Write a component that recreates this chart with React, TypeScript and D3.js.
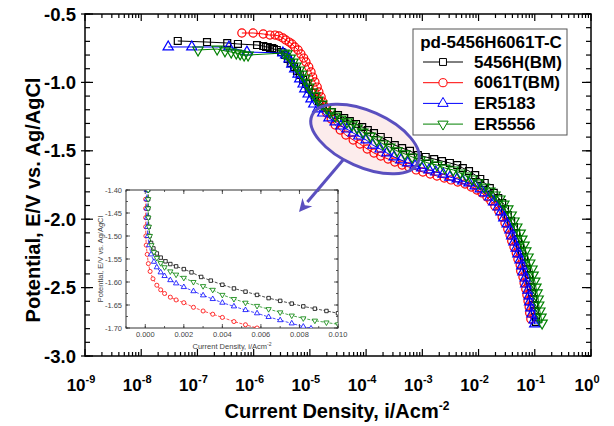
import React from "react";
import * as d3 from "d3";

// potentiodynamic polarization, main plot: [log10 current density (A/cm2), potential (V vs Ag/AgCl)]
const seriesNames = ["5456H(BM)", "6061T(BM)", "ER5183", "ER5556"];
const legendTitle = "pd-5456H6061T-C";

const bm5456H: [number, number][] = [
  [-7.35, -0.697], [-6.83, -0.705], [-6.47, -0.712], [-6.28, -0.719], [-5.94, -0.727], [-5.83, -0.734],
  [-5.78, -0.741], [-5.75, -0.741], [-5.71, -0.749], [-5.67, -0.749], [-5.64, -0.756], [-5.59, -0.763],
  [-5.51, -0.778], [-5.44, -0.8], [-5.39, -0.829], [-5.34, -0.858], [-5.28, -0.887], [-5.23, -0.917],
  [-5.18, -0.946], [-5.12, -0.982], [-5.07, -1.012], [-5.02, -1.048], [-4.96, -1.077], [-4.91, -1.107],
  [-4.84, -1.136], [-4.77, -1.165], [-4.7, -1.187], [-4.61, -1.216], [-4.5, -1.238], [-4.39, -1.26],
  [-4.29, -1.282], [-4.18, -1.304], [-4.07, -1.326], [-3.97, -1.348], [-3.86, -1.37], [-3.74, -1.399],
  [-3.61, -1.428], [-3.49, -1.458], [-3.36, -1.48], [-3.22, -1.501], [-3.08, -1.531], [-2.94, -1.545],
  [-2.79, -1.56], [-2.65, -1.575], [-2.51, -1.589], [-2.38, -1.604], [-2.28, -1.626], [-2.17, -1.648],
  [-2.06, -1.677], [-1.97, -1.706], [-1.89, -1.735], [-1.8, -1.772], [-1.73, -1.808], [-1.65, -1.845],
  [-1.58, -1.882], [-1.53, -1.925], [-1.48, -1.969], [-1.42, -2.013], [-1.37, -2.057], [-1.33, -2.101],
  [-1.3, -2.145], [-1.26, -2.189], [-1.23, -2.232], [-1.19, -2.276], [-1.16, -2.32], [-1.14, -2.364],
  [-1.1, -2.408], [-1.09, -2.452], [-1.07, -2.496], [-1.05, -2.539], [-1.03, -2.583], [-1.01, -2.627],
  [-1.0, -2.671], [-0.98, -2.715], [-0.98, -2.751],
];

const bm6061T: [number, number][] = [
  [-6.21, -0.639], [-6.01, -0.639], [-5.83, -0.646], [-5.71, -0.654], [-5.62, -0.654], [-5.55, -0.661],
  [-5.48, -0.675], [-5.43, -0.69], [-5.37, -0.705], [-5.32, -0.719], [-5.27, -0.741], [-5.21, -0.763],
  [-5.16, -0.792], [-5.11, -0.822], [-5.07, -0.851], [-5.02, -0.887], [-4.98, -0.924], [-4.95, -0.961],
  [-4.91, -0.997], [-4.87, -1.034], [-4.84, -1.07], [-4.8, -1.107], [-4.77, -1.143], [-4.73, -1.18],
  [-4.7, -1.224], [-4.62, -1.268], [-4.55, -1.311], [-4.46, -1.348], [-4.36, -1.385], [-4.23, -1.421],
  [-4.11, -1.45], [-3.98, -1.487], [-3.86, -1.516], [-3.74, -1.538], [-3.61, -1.56], [-3.49, -1.582],
  [-3.36, -1.604], [-3.24, -1.618], [-3.11, -1.64], [-2.99, -1.655], [-2.86, -1.67], [-2.74, -1.684],
  [-2.61, -1.699], [-2.49, -1.713], [-2.37, -1.728], [-2.24, -1.743], [-2.13, -1.765], [-2.03, -1.787],
  [-1.94, -1.808], [-1.85, -1.838], [-1.78, -1.867], [-1.71, -1.904], [-1.64, -1.94], [-1.58, -1.984],
  [-1.53, -2.028], [-1.48, -2.072], [-1.44, -2.116], [-1.41, -2.159], [-1.37, -2.203], [-1.33, -2.247],
  [-1.3, -2.291], [-1.26, -2.335], [-1.25, -2.379], [-1.21, -2.423], [-1.19, -2.466], [-1.16, -2.51],
  [-1.14, -2.554], [-1.12, -2.598], [-1.1, -2.642], [-1.09, -2.686], [-1.07, -2.73],
];

const er5183: [number, number][] = [
  [-7.52, -0.741], [-7.1, -0.741], [-6.44, -0.741], [-6.12, -0.778], [-5.48, -0.785],
  [-5.43, -0.8], [-5.37, -0.829], [-5.32, -0.866], [-5.27, -0.902], [-5.21, -0.939], [-5.18, -0.975],
  [-5.12, -1.012], [-5.09, -1.048], [-5.03, -1.085], [-4.98, -1.121], [-4.93, -1.158], [-4.86, -1.194],
  [-4.77, -1.224], [-4.66, -1.26], [-4.55, -1.289], [-4.45, -1.319], [-4.34, -1.341], [-4.23, -1.37],
  [-4.13, -1.392], [-4.0, -1.421], [-3.88, -1.458], [-3.75, -1.487], [-3.63, -1.516], [-3.5, -1.545],
  [-3.38, -1.567], [-3.26, -1.589], [-3.13, -1.611], [-3.01, -1.626], [-2.88, -1.64], [-2.76, -1.655],
  [-2.63, -1.67], [-2.51, -1.692], [-2.38, -1.706], [-2.28, -1.721], [-2.17, -1.735], [-2.06, -1.757],
  [-1.97, -1.779], [-1.89, -1.808], [-1.8, -1.838], [-1.73, -1.874], [-1.65, -1.911], [-1.6, -1.947],
  [-1.55, -1.991], [-1.49, -2.035], [-1.44, -2.079], [-1.41, -2.123], [-1.37, -2.167], [-1.33, -2.211],
  [-1.3, -2.254], [-1.26, -2.298], [-1.23, -2.342], [-1.21, -2.386], [-1.17, -2.43], [-1.16, -2.474],
  [-1.12, -2.518], [-1.1, -2.561], [-1.09, -2.605], [-1.07, -2.649], [-1.05, -2.693], [-1.01, -2.737],
  [-1.0, -2.766],
];

const er5556: [number, number][] = [
  [-6.99, -0.763], [-6.65, -0.756], [-6.51, -0.77], [-6.4, -0.778], [-6.31, -0.785], [-6.24, -0.792],
  [-6.17, -0.8], [-6.1, -0.8], [-5.46, -0.785],
  [-5.41, -0.792], [-5.35, -0.822], [-5.3, -0.851], [-5.25, -0.88], [-5.19, -0.909], [-5.14, -0.939],
  [-5.09, -0.968], [-5.05, -1.004], [-5.02, -1.034], [-4.96, -1.07], [-4.91, -1.099], [-4.86, -1.129],
  [-4.79, -1.158], [-4.71, -1.187], [-4.64, -1.216], [-4.55, -1.246], [-4.45, -1.268], [-4.34, -1.289],
  [-4.25, -1.311], [-4.16, -1.333], [-4.06, -1.363], [-3.93, -1.392], [-3.81, -1.421], [-3.7, -1.45],
  [-3.58, -1.472], [-3.45, -1.501], [-3.31, -1.523], [-3.18, -1.545], [-3.04, -1.567], [-2.9, -1.589],
  [-2.74, -1.604], [-2.6, -1.626], [-2.45, -1.64], [-2.33, -1.662], [-2.22, -1.684], [-2.12, -1.706],
  [-2.01, -1.735], [-1.9, -1.765], [-1.8, -1.794], [-1.71, -1.823], [-1.62, -1.852], [-1.55, -1.889],
  [-1.48, -1.925], [-1.42, -1.969], [-1.37, -2.013], [-1.32, -2.057], [-1.26, -2.101], [-1.23, -2.145],
  [-1.19, -2.189], [-1.16, -2.232], [-1.12, -2.276], [-1.09, -2.32], [-1.05, -2.364], [-1.03, -2.408],
  [-1.0, -2.452], [-0.98, -2.496], [-0.96, -2.539], [-0.94, -2.583], [-0.93, -2.627], [-0.91, -2.671],
  [-0.89, -2.715], [-0.87, -2.759],
];

// inset: [current density (A/cm2, linear), potential (V)]
const inset5456H: [number, number][] = [
  [0.00015, -1.4], [0.00015, -1.42], [0.00015, -1.44], [0.00016, -1.46], [0.00018, -1.48], [0.00022, -1.5],
  [0.0003, -1.515], [0.00042, -1.527], [0.0006, -1.538], [0.0008, -1.547], [0.00105, -1.555],
  [0.0013, -1.561], [0.0016, -1.566], [0.002, -1.572], [0.0024, -1.579], [0.0029, -1.589],
  [0.0034, -1.597], [0.004, -1.606], [0.0046, -1.614], [0.0052, -1.621], [0.0058, -1.628],
  [0.0064, -1.635], [0.007, -1.641], [0.0076, -1.647], [0.0082, -1.653], [0.0088, -1.658],
  [0.0094, -1.663], [0.01, -1.668],
];
const inset6061T: [number, number][] = [
  [0.00002, -1.42], [0.00002, -1.44], [0.00002, -1.46], [0.00002, -1.48], [0.00003, -1.5], [0.00005, -1.52],
  [0.0001, -1.54], [0.00016, -1.56], [0.00025, -1.577], [0.0004, -1.593], [0.0006, -1.607],
  [0.0008, -1.617], [0.001, -1.625], [0.0013, -1.633], [0.0016, -1.639], [0.002, -1.645],
  [0.0025, -1.655], [0.003, -1.663], [0.0035, -1.67], [0.004, -1.677], [0.0046, -1.686],
  [0.0052, -1.693], [0.0058, -1.7],
];
const inset5183: [number, number][] = [
  [0.00008, -1.4], [0.00008, -1.42], [0.00008, -1.44], [0.00009, -1.46], [0.0001, -1.48], [0.00013, -1.5],
  [0.0002, -1.52], [0.0003, -1.54], [0.00045, -1.556], [0.0006, -1.568], [0.0008, -1.579],
  [0.001, -1.587], [0.0013, -1.596], [0.0016, -1.603], [0.002, -1.611], [0.0025, -1.62],
  [0.003, -1.629], [0.0035, -1.637], [0.004, -1.645], [0.0046, -1.653], [0.0052, -1.661],
  [0.0058, -1.668], [0.0064, -1.676], [0.007, -1.683], [0.0076, -1.69], [0.0082, -1.697], [0.0086, -1.701],
];
const inset5556: [number, number][] = [
  [0.00015, -1.4], [0.00015, -1.42], [0.00015, -1.44], [0.00016, -1.46], [0.00019, -1.48], [0.00024, -1.5],
  [0.00032, -1.52], [0.00045, -1.535], [0.0006, -1.548], [0.0008, -1.559], [0.001, -1.568],
  [0.0013, -1.577], [0.0016, -1.584], [0.002, -1.591], [0.0025, -1.6], [0.003, -1.609],
  [0.0035, -1.617], [0.004, -1.628], [0.0046, -1.637], [0.0052, -1.645], [0.0058, -1.652],
  [0.0064, -1.659], [0.007, -1.666], [0.0076, -1.673], [0.0082, -1.679], [0.0088, -1.684],
  [0.0094, -1.688], [0.01, -1.692],
];

const xTickExps = [-9, -8, -7, -6, -5, -4, -3, -2, -1, 0];
const yTicks = [-0.5, -1.0, -1.5, -2.0, -2.5, -3.0];
const insetXTicks = [0.0, 0.002, 0.004, 0.006, 0.008, 0.01];
const insetYTicks = [-1.4, -1.45, -1.5, -1.55, -1.6, -1.65, -1.7];

const font = "Arial, 'Liberation Sans', Helvetica, sans-serif";
const plot = { left: 85, right: 591, top: 14, bottom: 356 };
const inset = { left: 126, right: 338, top: 190, bottom: 328 };

const styles = [
  { color: "#000000", symbol: d3.symbolSquare, size: 48, isize: 12, rot: 0 },
  { color: "#ff0000", symbol: d3.symbolCircle, size: 52, isize: 13, rot: 0 },
  { color: "#0000ff", symbol: d3.symbolTriangle, size: 46, isize: 12, rot: 0 },
  { color: "#008000", symbol: d3.symbolTriangle, size: 46, isize: 12, rot: 180 },
];

const App = () => {
  const x = d3.scaleLog().domain([1e-9, 1]).range([plot.left, plot.right]);
  const y = d3.scaleLinear().domain([-0.5, -3.0]).range([plot.top, plot.bottom]);
  const ix = d3.scaleLinear().domain([-0.001, 0.01]).range([inset.left, inset.right]);
  const iy = d3.scaleLinear().domain([-1.4, -1.7]).range([inset.top, inset.bottom]);

  const mainData = [bm5456H, bm6061T, er5183, er5556];
  const insetData = [inset5456H, inset6061T, inset5183, inset5556];

  const mainLine = d3
    .line<[number, number]>()
    .x((d) => x(Math.pow(10, d[0])))
    .y((d) => y(d[1]));
  const insetLine = d3
    .line<[number, number]>()
    .x((d) => ix(d[0]))
    .y((d) => iy(d[1]));

  const minorX: number[] = [];
  xTickExps.slice(0, -1).forEach((e) => {
    for (let m = 2; m <= 9; m++) minorX.push(m * Math.pow(10, e));
  });
  const minorY = d3.range(0, 26).map((k) => -0.5 - k * 0.1);
  const insetMinorX = d3.range(-1, 11).map((k) => k * 0.001);
  const insetMinorY = d3.range(0, 13).map((k) => -1.4 - k * 0.025);

  const sym = (i: number, small = false) =>
    d3.symbol().type(styles[i].symbol).size(small ? styles[i].isize : styles[i].size)() as string;

  // ellipse + arrow annotation
  const ell = { cx: 365, cy: 139, rx: 58, ry: 28, rot: 24 };
  const arrowFrom = [343, 160];
  const arrowTip = [299, 212];
  const ux = arrowTip[0] - arrowFrom[0];
  const uy = arrowTip[1] - arrowFrom[1];
  const ul = Math.hypot(ux, uy);
  const [dx, dy] = [ux / ul, uy / ul];
  const base = [arrowTip[0] - dx * 13, arrowTip[1] - dy * 13];
  const head = `${arrowTip[0]},${arrowTip[1]} ${base[0] + dy * 6.5},${base[1] - dx * 6.5} ${base[0] + dx * 4},${base[1] + dy * 4} ${base[0] - dy * 6.5},${base[1] + dx * 6.5}`;
  const annot = "#5a4fbf";

  return (
    <svg
      width={614}
      height={426}
      style={{ position: "absolute", left: 0, top: 0, background: "#fff" }}
      fontFamily={font}
    >
      <defs>
        <clipPath id="plotClip">
          <rect x={plot.left} y={plot.top} width={plot.right - plot.left} height={plot.bottom - plot.top} />
        </clipPath>
        <clipPath id="insetClip">
          <rect x={inset.left} y={inset.top} width={inset.right - inset.left} height={inset.bottom - inset.top} />
        </clipPath>
      </defs>
      <rect width={614} height={426} fill="#fff" />

      {/* ellipse fill behind curves */}
      <g transform={`translate(${ell.cx},${ell.cy}) rotate(${ell.rot})`}>
        <ellipse rx={ell.rx} ry={ell.ry} fill="#fcecec" />
      </g>

      {/* main curves */}
      <g clipPath="url(#plotClip)">
        {mainData.map((data, i) => (
          <g key={i}>
            <path d={mainLine(data) as string} fill="none" stroke={styles[i].color} strokeWidth={1} />
            {data.map((d, j) => (
              <path
                key={j}
                d={sym(i)}
                transform={`translate(${x(Math.pow(10, d[0]))},${y(d[1])}) rotate(${styles[i].rot})`}
                fill="none"
                stroke={styles[i].color}
                strokeWidth={1.2}
              />
            ))}
          </g>
        ))}
      </g>

      {/* ellipse outline */}
      <g transform={`translate(${ell.cx},${ell.cy}) rotate(${ell.rot})`}>
        <ellipse rx={ell.rx} ry={ell.ry} fill="none" stroke={annot} strokeWidth={3} />
      </g>

      {/* main frame and ticks */}
      <rect
        x={plot.left}
        y={plot.top}
        width={plot.right - plot.left}
        height={plot.bottom - plot.top}
        fill="none"
        stroke="#000"
        strokeWidth={1.5}
      />
      <g stroke="#000" strokeWidth={1.2}>
        {minorX.map((v, k) => (
          <g key={k}>
            <line x1={x(v)} x2={x(v)} y1={plot.top} y2={plot.top + 4} />
            <line x1={x(v)} x2={x(v)} y1={plot.bottom} y2={plot.bottom - 4} />
          </g>
        ))}
        {xTickExps.map((e) => (
          <g key={e}>
            <line x1={x(Math.pow(10, e))} x2={x(Math.pow(10, e))} y1={plot.top} y2={plot.top + 7} />
            <line x1={x(Math.pow(10, e))} x2={x(Math.pow(10, e))} y1={plot.bottom} y2={plot.bottom - 7} />
          </g>
        ))}
        {minorY.map((v, k) => (
          <g key={k}>
            <line x1={plot.left} x2={plot.left + 5} y1={y(v)} y2={y(v)} />
            <line x1={plot.right} x2={plot.right - 5} y1={y(v)} y2={y(v)} />
          </g>
        ))}
        {yTicks.map((v) => (
          <g key={v}>
            <line x1={plot.left - 4} x2={plot.left + 8} y1={y(v)} y2={y(v)} />
            <line x1={plot.right} x2={plot.right - 9} y1={y(v)} y2={y(v)} />
          </g>
        ))}
      </g>

      {/* main tick labels */}
      <g fontWeight="bold" fontSize={18.5} fill="#000">
        {yTicks.map((v) => (
          <text key={v} x={76} y={y(v)} textAnchor="end" dominantBaseline="central">
            {v.toFixed(1)}
          </text>
        ))}
      </g>
      <g fontWeight="bold" fill="#000">
        {xTickExps.map((e) => (
          <text key={e} x={x(Math.pow(10, e)) - 4} y={391} textAnchor="middle" fontSize={17}>
            10
            <tspan dy={-8} fontSize={11}>
              {e}
            </tspan>
          </text>
        ))}
      </g>
      <text x={337} y={418} textAnchor="middle" fontSize={20} fontWeight="bold">
        Current Density, i/Acm
        <tspan dy={-8} fontSize={12}>
          -2
        </tspan>
      </text>
      <text
        transform="translate(33,200) rotate(-90)"
        textAnchor="middle"
        dominantBaseline="central"
        fontSize={20}
        fontWeight="bold"
      >
        Potential, E/V vs. Ag/AgCl
      </text>

      {/* legend */}
      <rect x={413} y={29} width={154} height={106} fill="#fff" stroke="#555" strokeWidth={1} />
      <text x={491} y={42} textAnchor="middle" dominantBaseline="central" fontSize={17} fontWeight="bold">
        {legendTitle}
      </text>
      {seriesNames.map((name, i) => {
        const ly = 62 + i * 20.7;
        return (
          <g key={name}>
            <line x1={423} x2={463} y1={ly} y2={ly} stroke={styles[i].color} strokeWidth={1} />
            <path
              d={sym(i)}
              transform={`translate(443,${ly}) rotate(${styles[i].rot})`}
              fill="#fff"
              stroke={styles[i].color}
              strokeWidth={1}
            />
            <text x={474} y={ly} dominantBaseline="central" fontSize={17} fontWeight="bold">
              {name}
            </text>
          </g>
        );
      })}

      {/* inset */}
      <rect
        x={inset.left}
        y={inset.top}
        width={inset.right - inset.left}
        height={inset.bottom - inset.top}
        fill="#fff"
        stroke="#333"
        strokeWidth={1}
      />
      <g clipPath="url(#insetClip)">
        {insetData.map((data, i) => (
          <g key={i}>
            <path
              d={insetLine(data) as string}
              fill="none"
              stroke={styles[i].color}
              strokeWidth={0.7}
              strokeDasharray="3,1.5"
            />
            {data.map((d, j) => (
              <path
                key={j}
                d={sym(i, true)}
                transform={`translate(${ix(d[0])},${iy(d[1])}) rotate(${styles[i].rot})`}
                fill="#fff"
                stroke={styles[i].color}
                strokeWidth={0.8}
              />
            ))}
          </g>
        ))}
      </g>
      <g stroke="#333" strokeWidth={0.8}>
        {insetMinorX.map((v, k) => (
          <g key={k}>
            <line x1={ix(v)} x2={ix(v)} y1={inset.top} y2={inset.top + 2} />
            <line x1={ix(v)} x2={ix(v)} y1={inset.bottom} y2={inset.bottom - 2} />
          </g>
        ))}
        {insetXTicks.map((v) => (
          <g key={v}>
            <line x1={ix(v)} x2={ix(v)} y1={inset.top} y2={inset.top + 4} />
            <line x1={ix(v)} x2={ix(v)} y1={inset.bottom} y2={inset.bottom - 4} />
          </g>
        ))}
        {insetMinorY.map((v, k) => (
          <g key={k}>
            <line x1={inset.left} x2={inset.left + 2} y1={iy(v)} y2={iy(v)} />
            <line x1={inset.right} x2={inset.right - 2} y1={iy(v)} y2={iy(v)} />
          </g>
        ))}
        {insetYTicks.map((v) => (
          <g key={v}>
            <line x1={inset.left} x2={inset.left + 4} y1={iy(v)} y2={iy(v)} />
            <line x1={inset.right} x2={inset.right - 4} y1={iy(v)} y2={iy(v)} />
          </g>
        ))}
      </g>
      <g fontSize={7.5} fill="#444">
        {insetYTicks.map((v) => (
          <text key={v} x={122} y={iy(v)} textAnchor="end" dominantBaseline="central">
            {v.toFixed(2)}
          </text>
        ))}
        {insetXTicks.map((v) => (
          <text key={v} x={ix(v)} y={337} textAnchor="middle">
            {v.toFixed(3)}
          </text>
        ))}
        <text x={232} y={349} textAnchor="middle">
          Current Density, i/Acm
          <tspan dy={-3} fontSize={5}>
            -2
          </tspan>
        </text>
        <text transform="translate(100,259) rotate(-90)" textAnchor="middle" dominantBaseline="central">
          Potential, E/V vs. Ag/AgCl
        </text>
      </g>

      {/* arrow from the ellipse into the inset */}
      <line x1={arrowFrom[0]} y1={arrowFrom[1]} x2={base[0]} y2={base[1]} stroke={annot} strokeWidth={3} />
      <polygon points={head} fill={annot} />
    </svg>
  );
};

export default App;
